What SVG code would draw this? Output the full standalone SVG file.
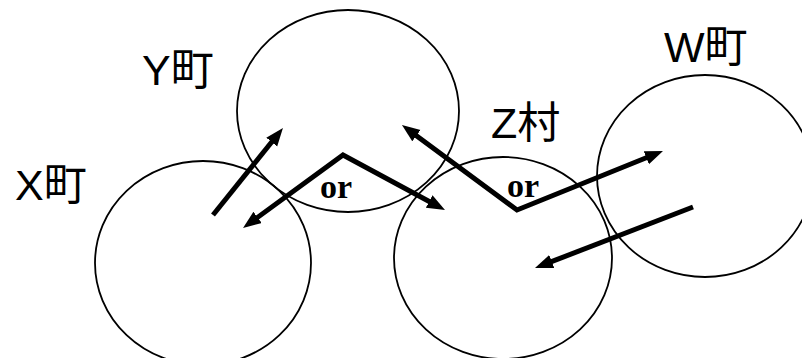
<svg xmlns="http://www.w3.org/2000/svg" width="802" height="358" viewBox="0 0 802 358">
<style>
.area{fill:none;stroke:#000;stroke-width:1.8}
.lbl{font-family:"Liberation Sans","Noto Sans CJK JP",sans-serif;font-size:43px;fill:#000}
.or{font-family:"Liberation Serif",serif;font-weight:bold;font-size:34px;fill:#000}
.arr{fill:none;stroke:#000;stroke-width:5;stroke-linejoin:miter;stroke-linecap:butt}
</style>
<defs>
<marker id="ah" markerUnits="userSpaceOnUse" markerWidth="20" markerHeight="16" refX="8" refY="7" orient="auto-start-reverse" viewBox="0 0 20 16">
<path d="M0,0 L18,7 L0,14 z" fill="#000"/>
</marker>
</defs>
<rect width="802" height="358" fill="#fff"/>
<g id="X">
<ellipse class="area" cx="203" cy="263" rx="108" ry="102"/>
<text class="lbl" x="15" y="200">X町</text>
</g>
<g id="Y">
<ellipse class="area" cx="348" cy="111" rx="111" ry="101"/>
<text class="lbl" x="142" y="85">Y町</text>
</g>
<g id="Z">
<ellipse class="area" cx="503" cy="258" rx="109" ry="101"/>
<text class="lbl" x="491" y="138">Z村</text>
</g>
<g id="W">
<ellipse class="area" cx="705" cy="176" rx="108" ry="101"/>
<text class="lbl" x="664" y="62">W町</text>
</g>
<g id="connectors">
<path class="arr" d="M213,215 L276.7,135.8" marker-end="url(#ah)"/>
<path class="arr" d="M251.1,222.1 L343,155 L436.2,205.3" marker-start="url(#ah)" marker-end="url(#ah)"/>
<path class="arr" d="M410,130.9 L517,210 L653.7,154.7" marker-start="url(#ah)" marker-end="url(#ah)"/>
<path class="arr" d="M693,207 L544.3,264.4" marker-end="url(#ah)"/>
<text class="or" x="320" y="198">or</text>
<text class="or" x="507" y="197">or</text>
</g>
</svg>
